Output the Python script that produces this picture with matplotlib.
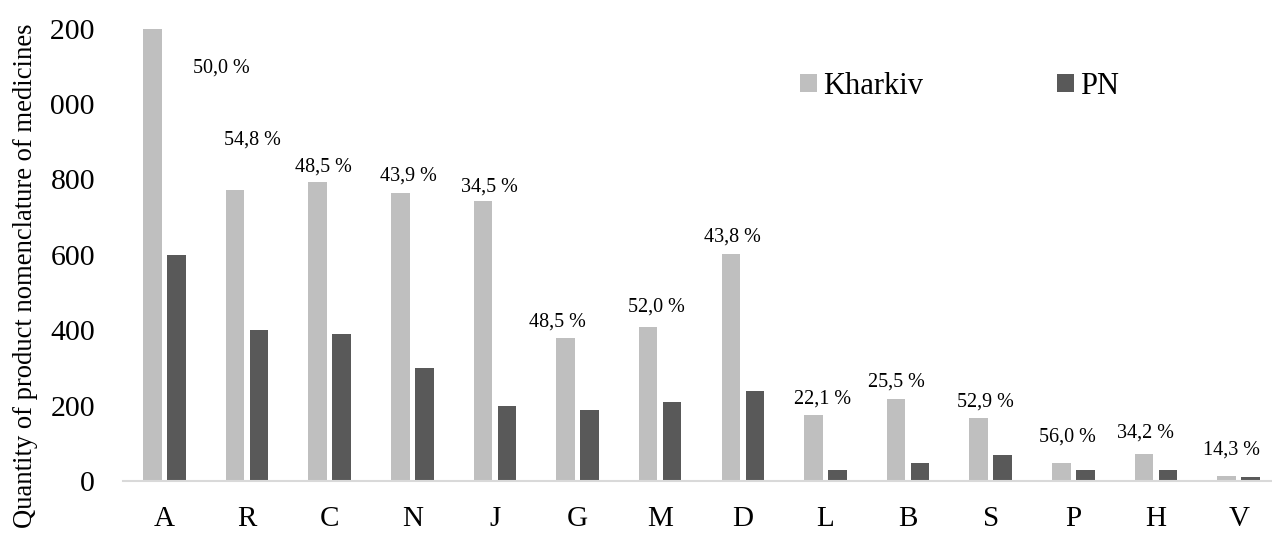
import matplotlib
matplotlib.use("Agg")
import matplotlib.pyplot as plt
from matplotlib.transforms import Bbox
import numpy as np

plt.rcParams['font.family'] = ['Liberation Serif', 'DejaVu Serif']

# ATC groups and product counts
groups = ["A", "R", "C", "N", "J", "G", "M", "D", "L", "B", "S", "P", "H", "V"]
kharkiv = [1200, 772, 793, 763, 742, 380, 409, 601, 176, 218, 168, 48, 72, 13]
pn = [600, 400, 390, 300, 199, 189, 209, 239, 28, 49, 68, 28, 28, 11]
share = [50.0, 54.8, 48.5, 43.9, 34.5, 48.5, 52.0, 43.8, 22.1, 25.5, 52.9, 56.0, 34.2, 14.3]

# where each share label sits: horizontal shift (px) and height (data units)
label_dx = [57, 5, -6, -4, -5, -20, -4, -10, -3, -12, -5, -6, -11, -7]
label_y = [1095, 904, 833, 809, 781, 422, 462, 647, 218, 263, 210, 117, 127, 82]

W, H = 1272, 533
fig = plt.figure(figsize=(W / 100, H / 100), dpi=100)
ax = fig.add_axes([123 / W, 52 / H, (1280 - 123) / W, (481 - 28.6) / H])

x = np.arange(len(groups))
step = (1280 - 123) / 14  # px per category
bw = 0.225
ax.bar(x - 0.145, kharkiv, bw, color="#bfbfbf", label="Kharkiv")
ax.bar(x + 0.145, pn, bw, color="#595959", label="PN")

for i, (v, dx, y) in enumerate(zip(share, label_dx, label_y)):
    txt = f"{v:.1f}".replace(".", ",") + " %"
    ax.text(i + dx / step, y, txt, ha="center", va="center", fontsize=14.5)

ax.set_xlim(-0.5, 13.5)
ax.set_ylim(0, 1200)
ax.set_xticks(x)
ax.set_xticklabels(groups, fontsize=21)
ax.set_yticks(np.arange(0, 1201, 200))
ax.set_yticklabels([str(t) for t in range(0, 1201, 200)], fontsize=21.5)
ax.tick_params(axis="x", length=0, pad=18)
ax.tick_params(axis="y", length=0, pad=20)

for s in ["top", "right", "left"]:
    ax.spines[s].set_visible(False)
ax.spines["bottom"].set_color("#d9d9d9")
ax.spines["bottom"].set_linewidth(1.5)

# y labels are cut off at the left side of the canvas
clip = Bbox.from_extents(50, 0, W, H)
for lbl in ax.get_yticklabels():
    lbl.set_clip_box(clip)
    lbl.set_clip_on(True)

fig.text(26 / W, (H - 276) / H, "Quantity of product nomenclature of medicines",
         rotation=90, ha="center", va="center", fontsize=19.2)

ax.legend(loc="upper left", bbox_to_anchor=(800 / W, (H - 72) / H),
          bbox_transform=fig.transFigure, ncol=2, frameon=False,
          borderaxespad=0, borderpad=0, fontsize=22,
          handlelength=0.55, handleheight=0.55, handletextpad=0.2,
          columnspacing=4.4)

fig.savefig("out.png", dpi=100)
